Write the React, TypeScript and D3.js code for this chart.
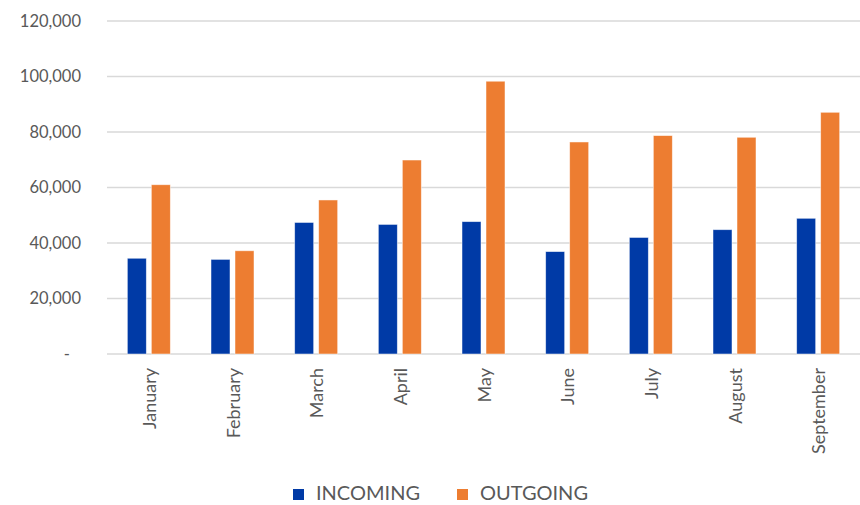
import React from "react";
import * as d3 from "d3";

const months = ["January", "February", "March", "April", "May", "June", "July", "August", "September"];
const incoming = [34500, 34100, 47400, 46700, 47700, 36900, 42000, 44800, 48900];
const outgoing = [61000, 37200, 55500, 69900, 98300, 76400, 78700, 78100, 87100];
const yTicks = [0, 20000, 40000, 60000, 80000, 100000, 120000];
const seriesNames = ["INCOMING", "OUTGOING"];
const seriesColors = ["#003AA6", "#ED7D31"];

const W = 860;
const H = 505;
const margin = { left: 107, right: 0, top: 21, bottom: 151 };
const FONT = "Lato, 'Open Sans', sans-serif";

export default function App() {
  const x = d3
    .scaleBand<string>()
    .domain(months)
    .range([margin.left, W - margin.right])
    .paddingInner(0)
    .paddingOuter(0);
  const y = d3.scaleLinear().domain([0, 120000]).range([H - margin.bottom, margin.top]);
  const barW = 19;
  const gap = 5;
  const fmt = d3.format(",");
  const series = [incoming, outgoing];

  return (
    <svg
      width={W}
      height={H}
      style={{ position: "absolute", left: 0, top: 0, background: "#fff" }}
      fontFamily={FONT}
    >
      {yTicks.map((t) => (
        <g key={t}>
          <line
            x1={margin.left}
            x2={W - margin.right}
            y1={y(t)}
            y2={y(t)}
            stroke="#d9d9d9"
            strokeWidth={1.5}
          />
          <text
            x={t === 0 ? 70 : 81}
            y={y(t)}
            dy="0.35em"
            textAnchor="end"
            fontSize={16.5}
            fill="#595959"
          >
            {t === 0 ? "-" : fmt(t)}
          </text>
        </g>
      ))}
      {months.map((m, i) => {
        const cx = (x(m) as number) + x.bandwidth() / 2;
        return (
          <g key={m}>
            {series.map((s, k) => {
              const bx = cx - gap / 2 - barW + k * (barW + gap);
              return (
                <rect
                  key={k}
                  x={bx}
                  y={y(s[i])}
                  width={barW}
                  height={y(0) - y(s[i])}
                  fill={seriesColors[k]}
                  stroke="#ffffff"
                  strokeOpacity={0.6}
                  strokeWidth={0.8}
                />
              );
            })}
            <text
              transform={`translate(${cx + 7},${y(0) + 14}) rotate(-90)`}
              textAnchor="end"
              fontSize={18}
              fill="#595959"
            >
              {m}
            </text>
          </g>
        );
      })}
      {seriesNames.map((n, k) => {
        const lx = k === 0 ? 293 : 457;
        return (
          <g key={n}>
            <rect x={lx} y={489} width={11} height={11} fill={seriesColors[k]} />
            <text x={lx + 23} y={500} fontSize={20} fill="#595959">
              {n}
            </text>
          </g>
        );
      })}
    </svg>
  );
}
